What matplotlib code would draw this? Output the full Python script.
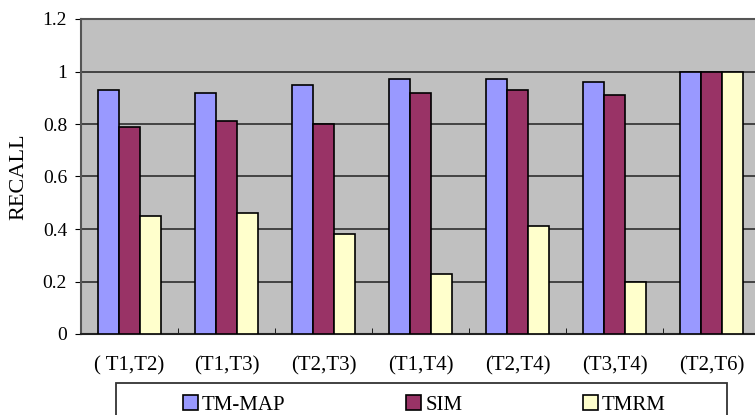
import numpy as np
import matplotlib.pyplot as plt
from matplotlib.patches import Rectangle

pairs = ["( T1,T2)", "(T1,T3)", "(T2,T3)", "(T1,T4)", "(T2,T4)", "(T3,T4)", "(T2,T6)"]
tm_map = [0.93, 0.92, 0.95, 0.97, 0.97, 0.96, 1.0]
sim = [0.79, 0.81, 0.80, 0.92, 0.93, 0.91, 1.0]
tmrm = [0.45, 0.46, 0.38, 0.23, 0.41, 0.20, 1.0]

plt.rcParams['font.family'] = ['Liberation Serif', 'DejaVu Serif']

fig = plt.figure(figsize=(7.55, 4.15), dpi=100)
W, H = 755, 415
ax = fig.add_axes([81 / W, 1 - 334 / H, (760 - 81) / W, (334 - 19) / H])
ax.set_facecolor('#C0C0C0')

x = np.arange(len(pairs))
w = 0.215
ax.bar(x - w, tm_map, w, color='#9999FF', edgecolor='black', linewidth=1.2, label='TM-MAP', zorder=3)
ax.bar(x, sim, w, color='#993366', edgecolor='black', linewidth=1.2, label='SIM', zorder=3)
ax.bar(x + w, tmrm, w, color='#FFFFCC', edgecolor='black', linewidth=1.2, label='TMRM', zorder=3)

ax.set_xlim(-0.5, len(pairs) - 0.5)
ax.set_ylim(0, 1.2)
ax.set_yticks(np.arange(0, 1.21, 0.2))
ax.set_yticklabels(['0', '0.2', '0.4', '0.6', '0.8', '1', '1.2'], fontsize=14)
ax.set_xticks(x)
ax.set_xticklabels(pairs, fontsize=15)
ax.set_xticks(np.arange(0.5, len(pairs) - 0.5), minor=True)
ax.tick_params(axis='x', which='major', length=0, pad=16)
ax.tick_params(axis='x', which='minor', length=4, direction='in')
ax.tick_params(axis='y', length=4, direction='out', pad=6)
ax.yaxis.grid(True, color='#222222', linewidth=1.1, zorder=0)
ax.set_axisbelow(True)

for side in ['top', 'left']:
    ax.spines[side].set_color('#555555')
    ax.spines[side].set_linewidth(1.5)
ax.spines['right'].set_visible(False)
ax.spines['bottom'].set_color('#222222')
ax.spines['bottom'].set_linewidth(1.5)

ax.set_ylabel('RECALL', fontsize=16, labelpad=10)

# legend frame hangs off the bottom edge of the figure
top = 1 - 383 / H
fig.add_artist(Rectangle((116 / W, top - 0.2), (727 - 116) / W, 0.2, transform=fig.transFigure,
                         facecolor='white', edgecolor='#333333', linewidth=1.3))
leg_top = 1 - 391 / H
leg = fig.legend(loc='upper left', bbox_to_anchor=(179 / W, leg_top - 0.03, (670 - 179) / W, 0.03),
                 mode='expand', ncol=3, fontsize=15, frameon=False,
                 handlelength=0.7, handleheight=0.7, handletextpad=0.2,
                 borderpad=0.2, borderaxespad=0)

fig.savefig('out.png', dpi=100)
